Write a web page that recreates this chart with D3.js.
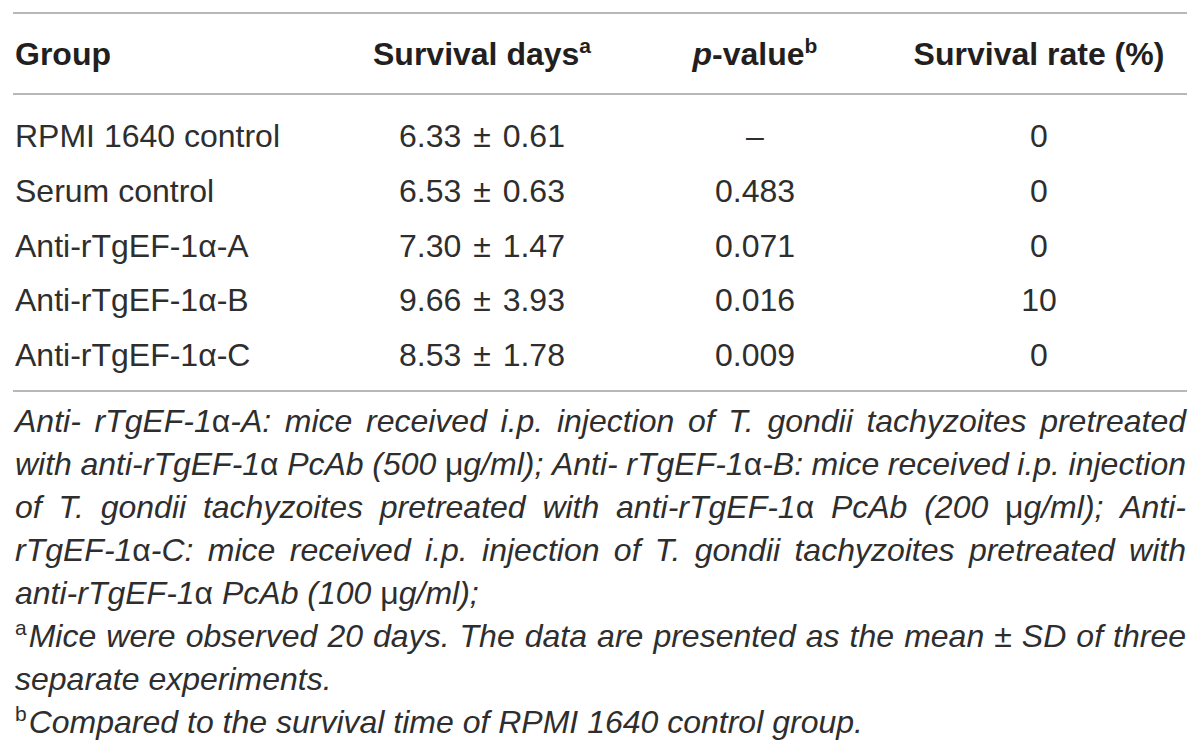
<!DOCTYPE html>
<html>
<head>
<meta charset="utf-8">
<script src="https://cdn.jsdelivr.net/npm/d3@7/dist/d3.min.js"></script>
<style>
  html, body { margin: 0; padding: 0; background: #fff; }
  svg { display: block; }
</style>
</head>
<body>
<svg id="chart" width="1200" height="752"></svg>
<script>
// ---------------- data ----------------
const headers = ["Group", "Survival days", "p-value", "Survival rate (%)"];
const headerSup = ["", "a", "b", ""];
const groups = ["RPMI 1640 control", "Serum control", "Anti-rTgEF-1α-A", "Anti-rTgEF-1α-B", "Anti-rTgEF-1α-C"];
const survivalMean = ["6.33", "6.53", "7.30", "9.66", "8.53"];
const survivalSD = ["0.61", "0.63", "1.47", "3.93", "1.78"];
const pValues = ["–", "0.483", "0.071", "0.016", "0.009"];
const survivalRate = ["0", "0", "0", "10", "0"];

// footnote paragraphs, broken into lines as in the reference
const footnotes = [
  { sup: "", lines: [
    "Anti- rTgEF-1α-A: mice received i.p. injection of T. gondii tachyzoites pretreated",
    "with anti-rTgEF-1α PcAb (500 μg/ml); Anti- rTgEF-1α-B: mice received i.p. injection",
    "of T. gondii tachyzoites pretreated with anti-rTgEF-1α PcAb (200 μg/ml); Anti-",
    "rTgEF-1α-C: mice received i.p. injection of T. gondii tachyzoites pretreated with",
    "anti-rTgEF-1α PcAb (100 μg/ml);"
  ]},
  { sup: "a", lines: [
    "Mice were observed 20 days. The data are presented as the mean ± SD of three",
    "separate experiments."
  ]},
  { sup: "b", lines: [
    "Compared to the survival time of RPMI 1640 control group."
  ]}
];

// ---------------- layout ----------------
const left = 15, right = 1186;
const textColor = "#231f20";
const bodyColor = "#2e2e2e";
const ruleColor = "#b8b8b8";
const fontFamily = "'Liberation Sans', Arial, Helvetica, sans-serif";
const fs = 32;

const svg = d3.select("#chart");

// column anchors
const colX = d3.scaleOrdinal().domain([0, 1, 2, 3]).range([left, 482, 755, 1039]);
const colAnchor = ["start", "middle", "middle", "middle"];

// row positions (baselines)
const rowY = d3.scalePoint().domain(d3.range(groups.length)).range([147, 366]);

// rules
const rules = [13, 94, 391];
svg.selectAll("line.rule").data(rules).join("line")
  .attr("class", "rule")
  .attr("x1", 13).attr("x2", 1187)
  .attr("y1", d => d).attr("y2", d => d)
  .attr("stroke", ruleColor).attr("stroke-width", 2);

// header
const hdr = svg.selectAll("text.hdr").data(headers).join("text")
  .attr("class", "hdr")
  .attr("x", (d, i) => colX(i))
  .attr("y", 65)
  .attr("text-anchor", (d, i) => colAnchor[i])
  .attr("font-family", fontFamily)
  .attr("font-size", fs)
  .attr("font-weight", "bold")
  .attr("fill", textColor);

hdr.each(function(d, i) {
  const t = d3.select(this);
  if (d.startsWith("p-")) {
    t.append("tspan").attr("font-style", "italic").text("p");
    t.append("tspan").text(d.slice(1));
  } else {
    t.append("tspan").text(d);
  }
  if (headerSup[i]) {
    t.append("tspan").attr("font-size", 21).attr("dy", -12).text(headerSup[i]);
  }
});

// rows
rowIdx = d3.range(groups.length);
rowIdx.forEach(ri => {
  const y = rowY(ri);
  const cells = [groups[ri], null, pValues[ri], survivalRate[ri]];
  cells.forEach((c, ci) => {
    const t = svg.append("text")
      .attr("x", colX(ci))
      .attr("y", y)
      .attr("text-anchor", colAnchor[ci])
      .attr("font-family", fontFamily)
      .attr("font-size", fs)
      .attr("fill", bodyColor);
    if (ci === 1) {
      t.append("tspan").text(survivalMean[ri]);
      t.append("tspan").attr("dx", 3).text(" ± ");
      t.append("tspan").attr("dx", 3).text(survivalSD[ri]);
    } else {
      t.text(c);
    }
  });
});

// footnotes (italic, justified)
const fnSize = 32;
const lineH = 43;
let baseY = 432;
const fnG = svg.append("g");

function addWord(g, word, x, y) {
  const t = g.append("text")
    .attr("x", x).attr("y", y)
    .attr("font-family", fontFamily)
    .attr("font-size", fnSize)
    .attr("font-style", "italic")
    .attr("fill", bodyColor);
  const parts = word.split(/([αμ±])/).filter(s => s.length);
  parts.forEach(p => {
    const ts = t.append("tspan").text(p);
    if (/[αμ±]/.test(p)) ts.attr("font-style", "normal");
  });
  return t;
}

footnotes.forEach(fn => {
  fn.lines.forEach((line, li) => {
    const y = baseY;
    let startX = left;
    if (fn.sup && li === 0) {
      const s = fnG.append("text")
        .attr("x", left).attr("y", y - 12)
        .attr("font-family", fontFamily)
        .attr("font-size", 21)
        .attr("fill", bodyColor)
        .text(fn.sup);
      startX = left + s.node().getComputedTextLength() + 2;
    }
    const words = line.split(" ");
    const g = fnG.append("g");
    const nodes = words.map(w => addWord(g, w, 0, y));
    const widths = nodes.map(n => n.node().getComputedTextLength());
    const total = d3.sum(widths);
    const isLast = li === fn.lines.length - 1;
    const spaceW = fnSize * 0.278;
    const gap = (isLast || words.length < 2) ? spaceW : (right - startX - total) / (words.length - 1);
    let x = startX;
    nodes.forEach((n, k) => {
      n.attr("x", x);
      x += widths[k] + gap;
    });
    baseY += lineH;
  });
});
</script>
</body>
</html>
